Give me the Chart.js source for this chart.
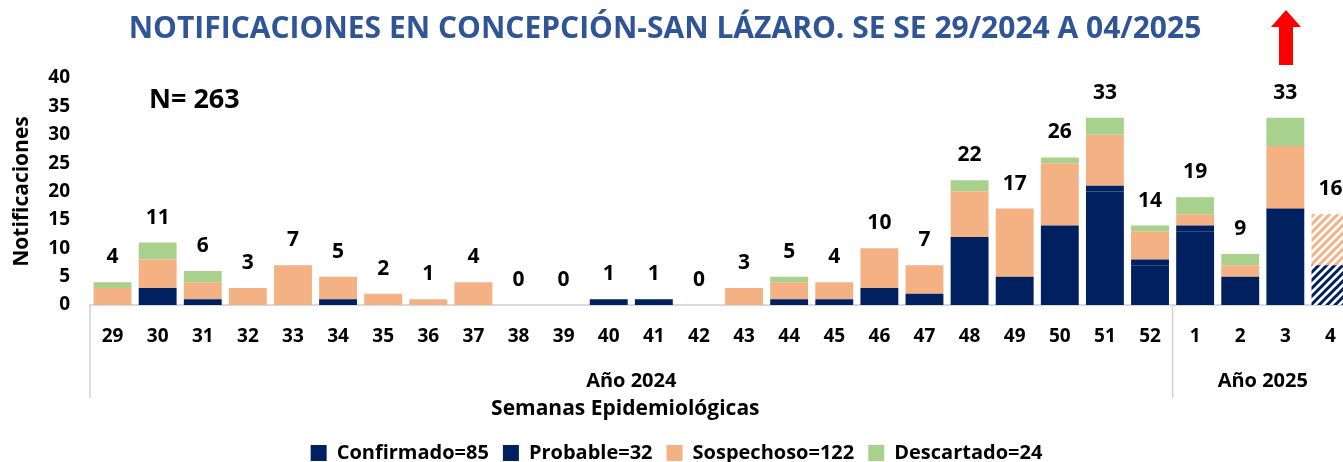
<!DOCTYPE html>
<html>
<head>
<meta charset="utf-8">
<script src="https://cdn.jsdelivr.net/npm/chart.js@4"></script>
<style>
    html, body { margin: 0; padding: 0; background: #fff; }
    #wrap { width: 1343px; height: 462px; overflow: hidden; position: relative; }
    #wrap canvas { position: absolute; left: 0; top: 0; }
</style>
</head>
<body>
<div id="wrap"><canvas id="myChart" width="1356" height="473"></canvas></div>
<script>
// DATOS
const semanas = ['29','30','31','32','33','34','35','36','37','38','39','40','41','42','43','44','45','46','47','48','49','50','51','52','1','2','3','4'];
const confirmado = [0,3,1,0,0,1,0,0,0,0,0,1,1,0,0,1,1,0,2,3,0,14,20,7,13,0,17,0];
const probable   = [0,0,0,0,0,0,0,0,0,0,0,0,0,0,0,0,0,3,0,9,5,0,1,1,1,5,0,7];
const sospechoso = [3,5,3,3,7,4,2,1,4,0,0,0,0,0,3,3,3,7,5,8,12,11,9,5,2,2,11,9];
const descartado = [1,3,2,0,0,0,0,0,0,0,0,0,0,0,0,1,0,0,0,2,0,1,3,1,3,2,5,0];
const leyenda = ['Confirmado=85', 'Probable=32', 'Sospechoso=122', 'Descartado=24'];
const anios = [{ label: 'Año 2024', desde: '29', hasta: '52' }, { label: 'Año 2025', desde: '1', hasta: '4' }];
const semanaParcial = '4';
const titulo = 'NOTIFICACIONES EN CONCEPCIÓN-SAN LÁZARO. SE SE 29/2024 A 04/2025';
const totalN = 'N= 263';

const NAVY = '#002060';
const NARANJA = '#F4B183';
const VERDE = '#A9D18E';
const FUENTE = '"Open Sans", sans-serif';

// rayado para la semana incompleta
function rayado(color)
{
    const c = document.createElement('canvas');
    c.width = 8; c.height = 8;
    const g = c.getContext('2d');
    g.fillStyle = '#fff';
    g.fillRect(0, 0, 8, 8);
    g.strokeStyle = color;
    g.lineWidth = 3;
    g.beginPath();
    g.moveTo(-2, 10); g.lineTo(10, -2);
    g.moveTo(-2, 2); g.lineTo(2, -2);
    g.moveTo(6, 10); g.lineTo(10, 6);
    g.stroke();
    return g.createPattern(c, 'repeat');
}

function colores(color)
{
    return semanas.map(s => s === semanaParcial ? rayado(color) : color);
}

// TEXTOS Y ARREGLOS EXTRA
const extras = {
    id: 'extras',
    afterDatasetsDraw(chart) {
        const ctx = chart.ctx;
        const x = chart.scales.x;
        const y = chart.scales.y;
        ctx.save();
        ctx.fillStyle = '#000';
        ctx.textAlign = 'center';
        ctx.textBaseline = 'middle';

        // totales sobre las barras
        ctx.font = 'bold 21px ' + FUENTE;
        semanas.forEach((s, i) => {
            const total = confirmado[i] + probable[i] + sospechoso[i] + descartado[i];
            ctx.fillText(total, x.getPixelForValue(i), y.getPixelForValue(total) - 25);
        });

        // grupos de años
        ctx.strokeStyle = '#D0D0D0';
        ctx.lineWidth = 1.5;
        ctx.font = 'bold 20px ' + FUENTE;
        const half = (x.getPixelForValue(1) - x.getPixelForValue(0)) / 2;
        anios.forEach(a => {
            const i0 = semanas.indexOf(a.desde);
            const i1 = semanas.indexOf(a.hasta);
            const left = x.getPixelForValue(i0) - half;
            ctx.beginPath();
            ctx.moveTo(left, y.bottom);
            ctx.lineTo(left, y.bottom + 93);
            ctx.stroke();
            ctx.fillText(a.label, (x.getPixelForValue(i0) + x.getPixelForValue(i1)) / 2, 381);
        });
        const a0 = semanas.indexOf(anios[0].desde), a1 = semanas.indexOf(anios[0].hasta);
        ctx.font = 'bold 21px ' + FUENTE;
        ctx.fillText('Semanas Epidemiológicas', (x.getPixelForValue(a0) + x.getPixelForValue(a1)) / 2 - 6, 409);

        // titulo
        ctx.fillStyle = '#2F5597';
        ctx.font = 'bold 30px ' + FUENTE;
        ctx.fillText(titulo, 665, 29);

        // N total
        ctx.fillStyle = '#000';
        ctx.textAlign = 'left';
        ctx.font = 'bold 27px ' + FUENTE;
        ctx.fillText(totalN, 149, 100);

        // flecha roja
        ctx.fillStyle = '#FF0000';
        ctx.beginPath();
        ctx.moveTo(1286, 10);
        ctx.lineTo(1301, 27);
        ctx.lineTo(1293, 27);
        ctx.lineTo(1293, 65);
        ctx.lineTo(1279, 65);
        ctx.lineTo(1279, 27);
        ctx.lineTo(1271, 27);
        ctx.closePath();
        ctx.fill();
        ctx.restore();
    }
};

const ctx = document.getElementById('myChart').getContext('2d');
const myChart = new Chart(ctx, {
    type: 'bar',
    data: {
        labels: semanas,
        datasets: [
            { label: leyenda[0], data: confirmado, backgroundColor: NAVY },
            { label: leyenda[1], data: probable, backgroundColor: colores(NAVY) },
            { label: leyenda[2], data: sospechoso, backgroundColor: colores(NARANJA) },
            { label: leyenda[3], data: descartado, backgroundColor: VERDE }
        ]
    },
    options: {
        responsive: false,
        animation: false,
        barPercentage: 0.84,
        categoryPercentage: 1.0,
        layout: { padding: { left: 0, right: 3, top: 78, bottom: 0 } },
        plugins: {
            title: { display: false },
            legend: {
                position: 'bottom',
                labels: {
                    color: '#000',
                    font: { family: FUENTE, size: 20, weight: 'bold' },
                    boxWidth: 16,
                    boxHeight: 16,
                    padding: 14,
                    generateLabels(chart) {
                        const cols = [NAVY, NAVY, NARANJA, VERDE];
                        return leyenda.map((t, i) => ({
                            text: t, fillStyle: cols[i], strokeStyle: cols[i], lineWidth: 0, datasetIndex: i
                        }));
                    }
                }
            },
            tooltip: { enabled: false }
        },
        scales: {
            x: {
                stacked: true,
                grid: { display: false, drawTicks: false },
                border: { color: '#D9D9D9', width: 2 },
                ticks: { color: '#000', font: { family: FUENTE, size: 19, weight: 'bold' }, padding: 20 },
                afterFit(scale) { scale.height = 124; }
            },
            y: {
                stacked: true,
                min: 0,
                max: 40,
                grid: { display: false, drawTicks: false },
                border: { display: false },
                ticks: { stepSize: 5, color: '#000', font: { family: FUENTE, size: 19, weight: 'bold' }, padding: 20 },
                title: {
                    display: true,
                    text: 'Notificaciones',
                    color: '#000',
                    font: { family: FUENTE, size: 21, weight: 'bold' },
                    padding: { top: 9, bottom: 4 }
                },
                afterFit(scale) { scale.width = 90; }
            }
        }
    },
    plugins: [extras]
});
</script>
</body>
</html>
